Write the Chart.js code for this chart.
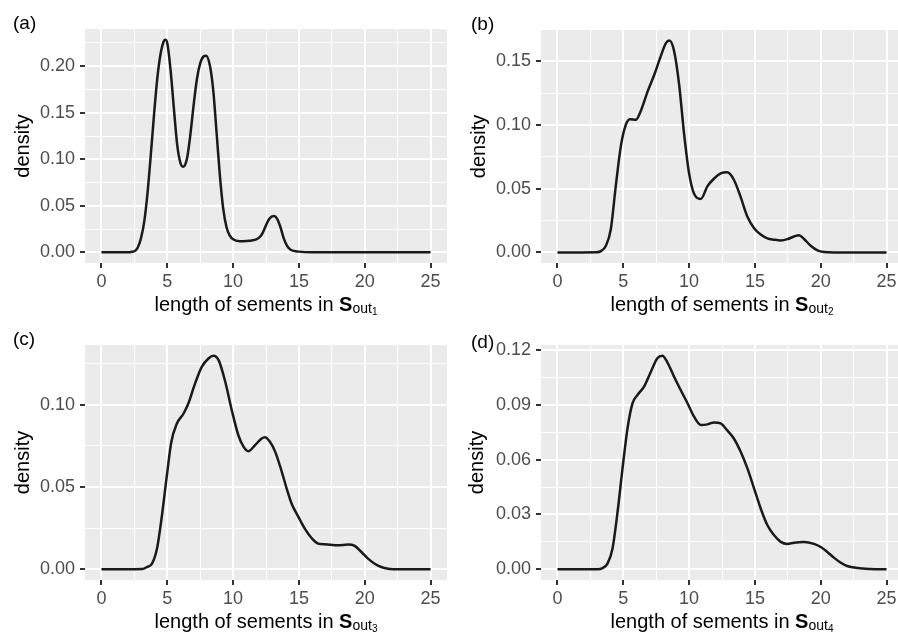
<!DOCTYPE html>
<html>
<head>
<meta charset="utf-8">
<script src="https://cdn.jsdelivr.net/npm/chart.js@4.4.1/dist/chart.umd.min.js"></script>
<style>
  html, body { margin: 0; padding: 0; background: #fff; }
  #wrap { position: relative; width: 898px; height: 635px; overflow: hidden; }
  #wrap canvas { position: absolute; }
</style>
</head>
<body>
<div id="wrap">
  <canvas id="pa" width="449" height="318" style="left:0;top:0"></canvas>
  <canvas id="pb" width="455" height="318" style="left:449px;top:0"></canvas>
  <canvas id="pc" width="449" height="317" style="left:0;top:318px"></canvas>
  <canvas id="pd" width="455" height="317" style="left:449px;top:318px"></canvas>
</div>
<script>
// x axis breaks (shared)
const xTickMajor = [0, 5, 10, 15, 20, 25];
const xTickMinor = [2.5, 7.5, 12.5, 17.5, 22.5];

// (a) density of segment lengths, S_out1
const xA = [0, 2.0, 2.25, 2.5, 2.75, 3.0, 3.25, 3.5, 3.75, 4.0, 4.25, 4.5, 4.75, 4.85, 5.0,
    5.25, 5.5, 5.75, 6.0, 6.2, 6.5, 6.75, 7.0, 7.25, 7.5, 7.75, 7.95, 8.25, 8.5, 8.75,
    9.0, 9.25, 9.5, 9.75, 10.0, 10.5, 11.0, 11.5, 11.75, 12.0, 12.25, 12.5, 12.75, 13.1,
    13.35, 13.6, 13.85, 14.1, 14.4, 15.0, 16.0, 25];
const yA = [0, 0.0002, 0.0005, 0.0012, 0.005, 0.015, 0.033, 0.064, 0.105, 0.149, 0.188, 0.214, 0.2275, 0.2286, 0.225,
    0.196, 0.155, 0.116, 0.096, 0.092, 0.101, 0.126, 0.158, 0.186, 0.203, 0.2105, 0.2114, 0.200, 0.173, 0.128,
    0.082, 0.047, 0.027, 0.018, 0.014, 0.012, 0.0122, 0.013, 0.014, 0.016, 0.021, 0.029, 0.036, 0.039,
    0.036, 0.027, 0.015, 0.007, 0.0025, 0.0008, 0.0001, 0];

// (b) S_out2
const xB = [0, 3.0, 3.3, 3.67, 4.05, 4.43, 4.81, 5.19, 5.5, 5.95, 6.33, 6.84, 7.34, 7.85, 8.23, 8.5,
    8.86, 9.24, 9.62, 10.0, 10.38, 10.89, 11.4, 11.9, 12.4, 12.9, 13.4, 13.9, 14.43, 14.94,
    15.44, 15.95, 16.46, 16.96, 17.47, 17.97, 18.35, 18.73, 19.24, 19.75, 20.25, 21.0, 25];
const yB = [0, 0.0002, 0.001, 0.005, 0.018, 0.052, 0.083, 0.100, 0.1045, 0.104, 0.111, 0.126, 0.139, 0.154, 0.164, 0.1662,
    0.158, 0.132, 0.093, 0.062, 0.046, 0.042, 0.052, 0.058, 0.062, 0.0628, 0.057, 0.044, 0.028, 0.019,
    0.014, 0.011, 0.010, 0.0094, 0.0104, 0.0125, 0.0135, 0.0105, 0.0052, 0.0016, 0.0003, 0, 0];

// (c) S_out3
const xC = [0, 3.1, 3.46, 3.84, 4.22, 4.6, 4.97, 5.3, 5.73, 6.24, 6.6, 7.12, 7.63, 8.13, 8.5, 8.9,
    9.4, 9.9, 10.4, 10.8, 11.16, 11.67, 12.17, 12.42, 12.8, 13.2, 13.7, 14.07, 14.44, 14.95,
    15.45, 15.96, 16.46, 16.97, 17.98, 18.74, 19.24, 19.75, 20.25, 20.76, 21.26, 21.77, 22.5, 25];
const yC = [0, 0.0002, 0.0014, 0.0034, 0.0126, 0.033, 0.057, 0.077, 0.0885, 0.0946, 0.1007, 0.113, 0.123, 0.128, 0.1297, 0.127,
    0.114, 0.0966, 0.0814, 0.0743, 0.0717, 0.0754, 0.0794, 0.0802, 0.0774, 0.0713, 0.0592, 0.049, 0.040, 0.032,
    0.0247, 0.019, 0.0156, 0.0152, 0.0146, 0.0150, 0.0142, 0.0105, 0.0065, 0.0034, 0.0014, 0.0004, 0, 0];

// (d) S_out4
const xD = [0, 3.04, 3.42, 3.8, 4.18, 4.56, 4.94, 5.32, 5.7, 6.08, 6.58, 7.09, 7.59, 7.97, 8.35, 8.86,
    9.37, 9.87, 10.38, 10.89, 11.39, 11.9, 12.4, 12.9, 13.4, 13.92, 14.43, 14.94, 15.44, 15.95,
    16.46, 16.96, 17.47, 17.97, 18.73, 19.49, 20.0, 20.5, 21.0, 21.5, 22.0, 22.8, 23.8, 25];
const yD = [0, 0.0001, 0.0007, 0.0031, 0.0113, 0.031, 0.055, 0.077, 0.0908, 0.0954, 0.100, 0.108, 0.1155, 0.1169, 0.1133, 0.1054,
    0.098, 0.091, 0.0835, 0.079, 0.0793, 0.0804, 0.0798, 0.076, 0.0716, 0.0643, 0.0552, 0.0442, 0.0333, 0.0241,
    0.0186, 0.015, 0.0139, 0.0146, 0.015, 0.0139, 0.0122, 0.0095, 0.0064, 0.0037, 0.0018, 0.0007, 0.0002, 0];

// y axis breaks per panel
const yMajorA = [0, 0.05, 0.10, 0.15, 0.20];
const yMinorA = [0.025, 0.075, 0.125, 0.175, 0.225];
const yMajorB = [0, 0.05, 0.10, 0.15];
const yMinorB = [0.025, 0.075, 0.125];
const yMajorC = [0, 0.05, 0.10];
const yMinorC = [0.025, 0.075, 0.125];
const yMajorD = [0, 0.03, 0.06, 0.09, 0.12];
const yMinorD = [0.015, 0.045, 0.075, 0.105];

const panelLetters = ["(a)", "(b)", "(c)", "(d)"];
const outIndex = ["1", "2", "3", "4"];

const FONT = '"Liberation Sans", Arial, Helvetica, sans-serif';
Chart.defaults.font.family = FONT;

// grey panel + letter + x title with bold S and subscripts
const ggPlugin = {
    id: "gg",
    beforeDraw(chart) {
        const { ctx, chartArea: a } = chart;
        ctx.save();
        ctx.fillStyle = "#ebebeb";
        ctx.fillRect(a.left, a.top, a.right - a.left, a.bottom - a.top);
        ctx.restore();
    },
    afterDraw(chart, args, o) {
        const { ctx, chartArea: a } = chart;
        ctx.save();
        ctx.fillStyle = "#000";
        ctx.textBaseline = "alphabetic";
        ctx.textAlign = "left";
        ctx.font = "19px " + FONT;
        ctx.fillText(o.letter, o.letterX, o.letterY);

        const parts = [
            { t: "length of sements in ", f: "20px " + FONT, dy: 0 },
            { t: "S", f: "bold 20px " + FONT, dy: 0 },
            { t: "out", f: "14px " + FONT, dy: 2 },
            { t: o.sub, f: "10px " + FONT, dy: 4 }
        ];
        let total = 0;
        parts.forEach(p => { ctx.font = p.f; p.w = ctx.measureText(p.t).width; total += p.w; });
        let x = (a.left + a.right) / 2 - total / 2;
        const base = a.bottom + 48;
        parts.forEach(p => {
            ctx.font = p.f;
            ctx.fillText(p.t, x, base + p.dy);
            x += p.w;
        });
        ctx.restore();
    }
};

function makePanel(id, xs, ys, yMajor, yMinor, idx, box) {
    const canvas = document.getElementById(id);
    const W = canvas.width, H = canvas.height;
    const yMax = Math.max(...ys);
    const xAll = xTickMajor.concat(xTickMinor).sort((p, q) => p - q);
    const yAll = yMajor.concat(yMinor).sort((p, q) => p - q);

    const gridFor = major => ({
        color: "#ffffff",
        lineWidth: c => (c.tick && major.includes(c.tick.value) ? 2 : 1),
        tickColor: c => (c.tick && major.includes(c.tick.value) ? "#333333" : "rgba(0,0,0,0)"),
        tickWidth: 2,
        tickLength: 5,
        drawTicks: true
    });

    new Chart(canvas, {
        type: "line",
        data: {
            datasets: [{
                data: xs.map((v, i) => ({ x: v, y: ys[i] })),
                borderColor: "#1a1a1a",
                borderWidth: 2.5,
                pointRadius: 0,
                fill: false,
                cubicInterpolationMode: "monotone"
            }]
        },
        options: {
            responsive: false,
            animation: false,
            events: [],
            layout: { padding: { left: 0, top: box.T, right: W - box.R, bottom: 0 } },
            plugins: {
                legend: { display: false },
                tooltip: { enabled: false },
                gg: { letter: panelLetters[idx], sub: outIndex[idx], letterX: box.lx, letterY: box.ly }
            },
            scales: {
                x: {
                    type: "linear",
                    min: -1.25,
                    max: 26.25,
                    border: { display: false },
                    grid: gridFor(xTickMajor),
                    afterBuildTicks: s => { s.ticks = xAll.map(v => ({ value: v })); },
                    afterFit: s => { s.height = H - box.B; },
                    ticks: {
                        autoSkip: false,
                        maxRotation: 0,
                        padding: 3,
                        color: "#4d4d4d",
                        font: { size: 18 },
                        callback: v => (xTickMajor.includes(v) ? String(v) : "")
                    }
                },
                y: {
                    type: "linear",
                    min: -0.05 * yMax,
                    max: 1.05 * yMax,
                    border: { display: false },
                    grid: gridFor(yMajor),
                    afterBuildTicks: s => { s.ticks = yAll.map(v => ({ value: v })); },
                    afterFit: s => { s.width = box.L; },
                    ticks: {
                        padding: 5,
                        color: "#4d4d4d",
                        font: { size: 18 },
                        callback: v => (yMajor.includes(v) ? v.toFixed(2) : "")
                    },
                    title: {
                        display: true,
                        text: "density",
                        color: "#000",
                        font: { size: 20 },
                        padding: { top: box.tp, bottom: 0 }
                    }
                }
            }
        },
        plugins: [ggPlugin]
    });
}

makePanel("pa", xA, yA, yMajorA, yMinorA, 0, { L: 85, T: 29, R: 447, B: 263, tp: 11, lx: 13, ly: 29 });
makePanel("pb", xB, yB, yMajorB, yMinorB, 1, { L: 92, T: 30, R: 454, B: 263, tp: 18, lx: 22, ly: 29.5 });
makePanel("pc", xC, yC, yMajorC, yMinorC, 2, { L: 85, T: 27, R: 447, B: 262, tp: 11, lx: 13, ly: 26.5 });
makePanel("pd", xD, yD, yMajorD, yMinorD, 3, { L: 92, T: 27, R: 454, B: 262, tp: 16, lx: 22, ly: 29.5 });
</script>
</body>
</html>
